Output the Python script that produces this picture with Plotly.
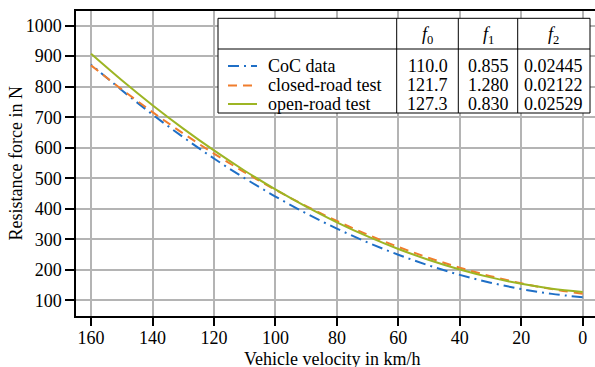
import plotly.graph_objects as go

# ---- data ----
velocity = [0, 10, 20, 30, 40, 50, 60, 70, 80, 90, 100, 110, 120, 130, 140, 150, 160]
coc_force = [110.0, 121.0, 136.9, 157.7, 183.3, 213.9, 249.3, 289.7, 334.9, 385.0,
             440.0, 499.9, 564.7, 634.4, 708.9, 788.4, 872.7]
closed_force = [121.7, 136.6, 155.8, 179.2, 206.9, 238.8, 274.9, 315.3, 359.9, 408.8,
                461.9, 519.3, 580.9, 646.7, 716.8, 791.2, 869.7]
open_force = [127.3, 138.1, 154.0, 175.0, 201.0, 232.0, 268.1, 309.3, 355.6, 406.8,
              463.2, 524.6, 591.1, 662.6, 739.2, 820.8, 907.5]

series_names = ["CoC data", "closed-road test", "open-road test"]
f0_vals = ["110.0", "121.7", "127.3"]
f1_vals = ["0.855", "1.280", "0.830"]
f2_vals = ["0.02445", "0.02122", "0.02529"]
col_headers = ["<i>f</i><sub>0</sub>", "<i>f</i><sub>1</sub>", "<i>f</i><sub>2</sub>"]

x_ticks = [160, 140, 120, 100, 80, 60, 40, 20, 0]
y_ticks = [100, 200, 300, 400, 500, 600, 700, 800, 900, 1000]

colors = ["#1f6fc6", "#f07d2c", "#9db524"]
dashes = ["11px,5px,2px,5px", "9px,6px", "solid"]

FONT = "Liberation Serif, Times New Roman, serif"
FS = 18
W, H = 595, 367
L, R, T, B = 76, 0, 11, 51

fig = go.Figure()
for name, ys, c, d in zip(series_names, [coc_force, closed_force, open_force], colors, dashes):
    fig.add_trace(go.Scatter(x=velocity, y=ys, mode="lines", name=name,
                             line=dict(color=c, dash=d, width=2, shape="spline"),
                             showlegend=False, hoverinfo="skip"))

pw = W - L - R
ph = H - T - B


def px(x):
    return (x - L) / pw


def py(y):
    return (H - B - y) / ph


shapes = []
ann = []
# table frame
tx0, tx1 = px(218), px(590)
ty0, ty1 = py(113), py(18.3)
shapes.append(dict(type="rect", xref="paper", yref="paper", x0=tx0, x1=tx1, y0=ty0, y1=ty1,
                   fillcolor="white", line=dict(color="black", width=1), layer="above"))
col_x = [396.7, 458.3, 517.7, 590]
for cx in col_x[:3]:
    shapes.append(dict(type="line", xref="paper", yref="paper", x0=px(cx), x1=px(cx),
                       y0=ty0, y1=ty1, line=dict(color="black", width=1), layer="above"))
shapes.append(dict(type="line", xref="paper", yref="paper", x0=tx0, x1=tx1,
                   y0=py(49), y1=py(49), line=dict(color="black", width=1), layer="above"))

tfont = dict(family=FONT, size=FS, color="black")
# headers
for i, h in enumerate(col_headers):
    cxm = (col_x[i] + col_x[i + 1]) / 2
    ann.append(dict(xref="paper", yref="paper", x=px(cxm), y=py(36), text=h, showarrow=False,
                    xanchor="center", yanchor="middle", font=tfont))

row_y = [66, 85.5, 104]
for r, (nm, c, d) in enumerate(zip(series_names, colors, dashes)):
    yy = py(row_y[r])
    shapes.append(dict(type="line", xref="paper", yref="paper", x0=px(228), x1=px(257),
                       y0=yy, y1=yy, line=dict(color=c, dash=d, width=2), layer="above"))
    ann.append(dict(xref="paper", yref="paper", x=px(266), y=yy, text=nm, showarrow=False,
                    xanchor="left", yanchor="middle", font=tfont))
    for i, vals in enumerate([f0_vals, f1_vals, f2_vals]):
        cxm = (col_x[i] + col_x[i + 1]) / 2
        ann.append(dict(xref="paper", yref="paper", x=px(cxm), y=yy, text=vals[r], showarrow=False,
                        xanchor="center", yanchor="middle", font=tfont))

# axis titles
ann.append(dict(xref="paper", yref="paper", x=px(332), y=py(359), text="Vehicle velocity in km/h",
                showarrow=False, xanchor="center", yanchor="middle", font=tfont))
ann.append(dict(xref="paper", yref="paper", x=px(15), y=py(163.5), text="Resistance force in N",
                showarrow=False, xanchor="center", yanchor="middle", textangle=-90, font=tfont))

fig.update_layout(
    width=W, height=H,
    margin=dict(l=L, r=R, t=T, b=B, pad=0, autoexpand=False),
    paper_bgcolor="white", plot_bgcolor="white",
    font=dict(family=FONT, size=FS, color="black"),
    shapes=shapes, annotations=ann,
)
fig.update_xaxes(range=[164.9, -4.0], tickvals=x_ticks, showgrid=True, gridcolor="#b4b4b4",
                 gridwidth=1.5, showline=True, linecolor="black", linewidth=1.5, mirror=True,
                 ticks="outside", ticklen=8, tickwidth=1.5, tickcolor="black", zeroline=False,
                 automargin=False, ticklabelstandoff=-3, tickfont=dict(family=FONT, size=FS))
fig.update_yaxes(range=[48.5, 1048], tickvals=y_ticks, showgrid=True, gridcolor="#b4b4b4",
                 gridwidth=1.5, showline=True, linecolor="black", linewidth=1.5,
                 ticks="outside", ticklen=9, tickwidth=1.5, tickcolor="black", zeroline=False,
                 automargin=False, tickfont=dict(family=FONT, size=FS))

fig.write_html("out.html", config={"displayModeBar": False},
               post_script="document.body.style.margin='0';document.body.style.padding='0';")
